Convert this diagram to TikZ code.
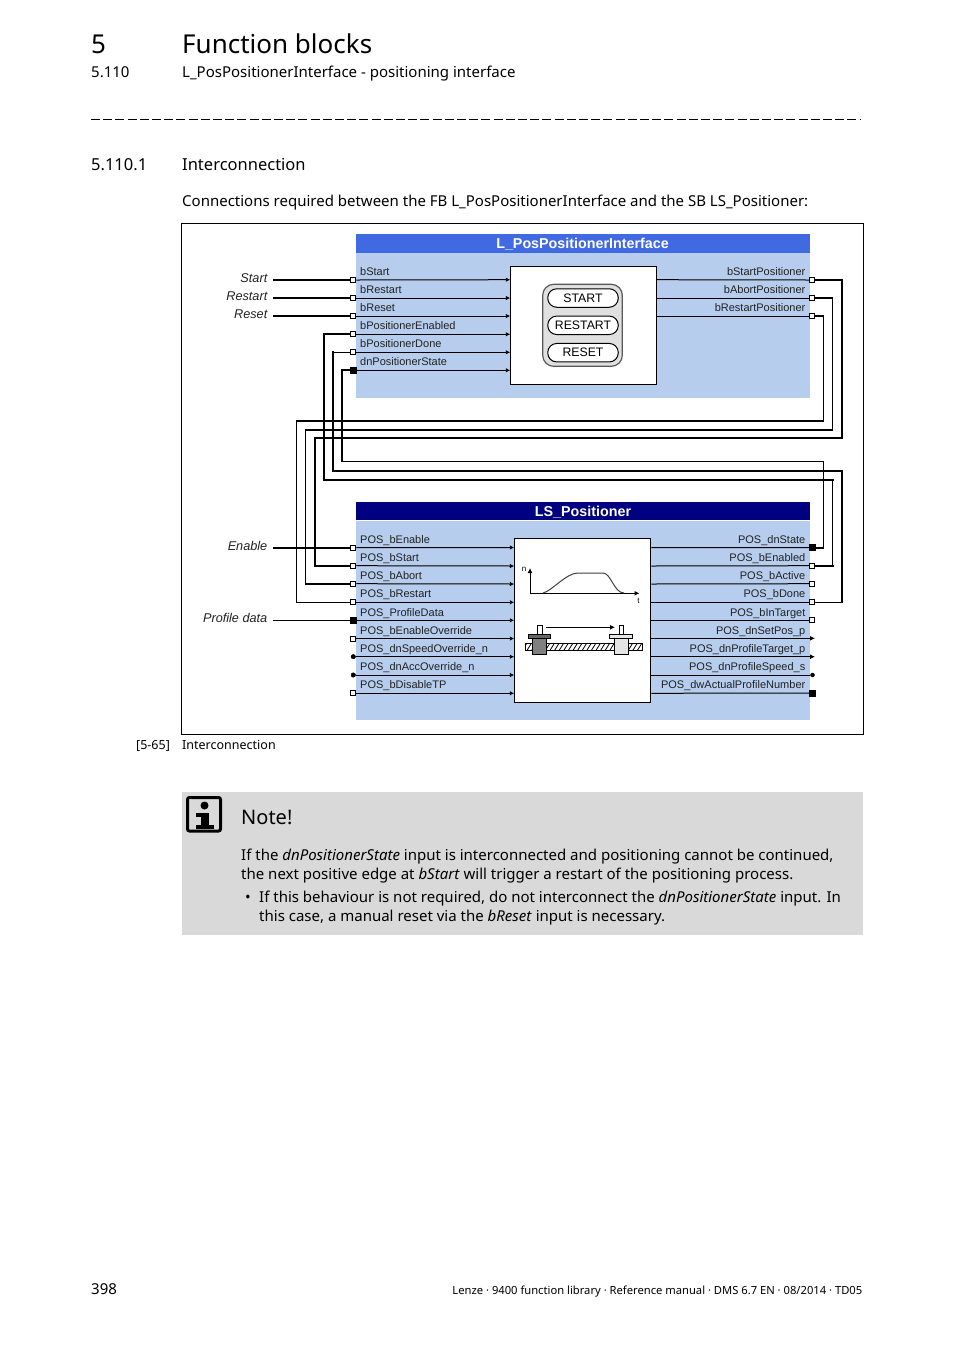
\documentclass[tikz,border=0pt]{standalone}
\usepackage{fontspec}
\setmainfont{Noto Sans}
\newfontfamily\arial{Liberation Sans}
\usetikzlibrary{arrows.meta}
\definecolor{panel}{HTML}{B6CDED}
\definecolor{ttlA}{HTML}{4169E1}
\definecolor{ttlB}{HTML}{000080}
\definecolor{notegray}{HTML}{D9D9D9}
\definecolor{txt}{HTML}{222222}
\tikzset{
 port/.style={draw=black,fill=white,line width=1,inner sep=0,minimum size=5,shape=rectangle},
 portfill/.style={draw=black,fill=black,line width=0.5,inner sep=0,minimum size=6,shape=rectangle},
 portdot/.style={draw=black,fill=black,inner sep=0,minimum size=4.5,shape=circle},
 sig/.style={line width=1},
 sigin/.style={line width=1,-{Latex[length=4.5,width=4.5]}},
 wthin/.style={line width=1.1,line cap=rect},
 wthick/.style={line width=2,line cap=rect},
 plbl/.style={font=\arial\fontsize{11}{13}\selectfont,text=txt,inner sep=0},
 lft/.style={plbl,anchor=base west},
 rgt/.style={plbl,anchor=base east},
 extl/.style={font=\arial\itshape\fontsize{12.7}{15}\selectfont,text=txt,inner sep=0,anchor=base east},
 btn/.style={draw=black,fill=white,line width=1,rounded corners=9,minimum width=70.5,minimum height=18.5,inner sep=0,font=\arial\fontsize{12.3}{14}\selectfont},
 body/.style={inner sep=0,anchor=base west,font=\fontsize{15}{18}\selectfont,text=black},
 ttl/.style={font=\arial\bfseries\fontsize{14.3}{16}\selectfont,text=white,inner sep=0,anchor=base},
 blockbox/.style={draw=black,fill=white,line width=1,inner sep=0,anchor=north west},
}
\begin{document}
\begin{tikzpicture}[x=1pt,y=-1pt]
\useasboundingbox (0,0) rectangle (954,1350);
\fill[white] (0,0) rectangle (954,1350);
% header
\node[body,font=\fontsize{26}{30}\selectfont] (chapnum) at (91,53) {5};
\node[body,font=\fontsize{26}{30}\selectfont] (chaptitle) at (182,53) {Function blocks};
\node[body] (secnum) at (91,77) {5.110};
\node[body] (sectitle) at (182,77) {L\_PosPositionerInterface - positioning interface};
\draw[line width=1,dash pattern=on 9 off 3.2] (91,119.5) -- (860,119.5);
\node[body,font=\bfseries\fontsize{16.5}{20}\selectfont] (subnum) at (91,170) {5.110.1};
\node[body,font=\bfseries\fontsize{16.5}{20}\selectfont] (subtitle) at (182,170) {Interconnection};
\node[body] (intro) at (182,206) {Connections required between the FB \textbf{L\_PosPositionerInterface} and the SB \textbf{LS\_Positioner}:};
% frame
\draw[line width=1] (181.5,223.5) rectangle (863.5,734.5);
% upper block
\fill[panel] (356,252.7) rectangle (810,397.7);
\fill[ttlA] (356,234) rectangle (810,252.7);
\node[ttl] (ttlup) at (582.5,248) {L\_PosPositionerInterface};
\node[blockbox,minimum width=145.4,minimum height=118] (boxup) at (510.3,266.3) {};
\draw[draw=black!65,fill=black!12,line width=1.2,rounded corners=11] (542.7,284.3) rectangle (622.3,366.3);
\node[btn] (bstart) at (583,298) {START};
\node[btn] (brestart) at (583,325.3) {RESTART};
\node[btn] (breset) at (583,352.7) {RESET};
% upper ports
\node[port] (pA) at (353.3,280) {};
\node[port] (pB) at (353.3,298) {};
\node[port] (pC) at (353.3,316) {};
\node[port] (pD) at (353.3,334.3) {};
\node[port] (pE) at (353.3,352.3) {};
\node[portfill] (pF) at (353.3,370.3) {};
\node[port] (qA) at (812,280) {};
\node[port] (qB) at (812,298) {};
\node[port] (qC) at (812,316) {};
\foreach \n/\y in {pA/279.7,pB/298,pC/316,pD/334.3,pE/352.3,pF/370.3}
  \draw[sigin] (\n.east) -- (boxup.west |- 0,\y);
\foreach \n/\y in {qA/279.7,qB/298,qC/316}
  \draw[sig] (boxup.east |- 0,\y) -- (\n.west);
\foreach \t/\y in {bStart/275,bRestart/293,bReset/311,bPositionerEnabled/329,bPositionerDone/347.7,dnPositionerState/365.7}
  \node[lft] (l\t) at (360,\y) {\t};
\foreach \t/\y in {bStartPositioner/275,bAbortPositioner/293,bRestartPositioner/311}
  \node[rgt] (l\t) at (805.5,\y) {\t};
% lower block
\fill[panel] (356,521) rectangle (810,720);
\fill[ttlB] (356,502) rectangle (810,519.7);
\node[ttl] (ttllo) at (583,516) {LS\_Positioner};
\node[blockbox,minimum width=136,minimum height=163.7] (boxlo) at (514.3,538.3) {};
% lower ports
\node[port] (rA) at (353.3,547.7) {};
\node[port] (rB) at (353.3,565.7) {};
\node[port] (rC) at (353.3,583.7) {};
\node[port] (rD) at (353.3,602.3) {};
\node[portfill] (rE) at (353.3,620.3) {};
\node[port] (rF) at (353.3,638.5) {};
\node[portdot] (rG) at (353.3,656.7) {};
\node[portdot] (rH) at (353.3,675) {};
\node[port] (rI) at (353.3,693.3) {};
\foreach \n/\y in {rA/547.5,rB/566,rC/584,rD/602.3,rE/620.3,rF/638.5,rG/656.7,rH/675,rI/693.3}
  \draw[sigin] (\n.east) -- (boxlo.west |- 0,\y);
\foreach \t/\y in {POS\_bEnable/543,POS\_bStart/561,POS\_bAbort/579,POS\_bRestart/597,POS\_ProfileData/616,POS\_bEnableOverride/634,POS\_dnSpeedOverride\_n/652,POS\_dnAccOverride\_n/670,POS\_bDisableTP/688}
  \node[lft] at (360,\y) {\t};
\foreach \t/\y in {POS\_dnState/543,POS\_bEnabled/561,POS\_bActive/579,POS\_bDone/597,POS\_bInTarget/616,POS\_dnSetPos\_p/634,POS\_dnProfileTarget\_p/652,POS\_dnProfileSpeed\_s/670,POS\_dwActualProfileNumber/688}
  \node[rgt] at (805.5,\y) {\t};
\node[portfill] (sA) at (812,547.7) {};
\node[port] (sB) at (812,565.7) {};
\node[port] (sC) at (812,583.7) {};
\node[port] (sD) at (812,602.3) {};
\node[port] (sE) at (812,620.3) {};
\coordinate (sF) at (810,638.3);
\coordinate (sG) at (810,656.7);
\node[portdot,minimum size=4] (sH) at (812.5,675) {};
\node[portfill] (sI) at (812,693) {};
\foreach \n/\y in {sA/547.5,sB/566,sC/584,sD/602.3,sE/620.3,sH/675,sI/693.3}
  \draw[sig] (boxlo.east |- 0,\y) -- (\n.west);
\foreach \n/\y in {sF/638.3,sG/656.7}
  \draw[sig,-{Latex[length=5,width=5]}] (boxlo.east |- 0,\y) -- (815,\y);
% process picture
\draw[line width=1,-{Latex[length=5,width=5]}] (530,593.3) -- (530,568);
\draw[line width=1,-{Latex[length=5,width=5]}] (530,593.3) -- (639.5,593.3);
\draw[line width=1,black!75] (543,593) .. controls (552,591) and (566,573) .. (578,573) -- (603,573) .. controls (611,573) and (614,593) .. (624,593);
\node[font=\arial\fontsize{8}{9}\selectfont,inner sep=0] (axn) at (524,569) {n};
\node[font=\arial\fontsize{8}{9}\selectfont,inner sep=0] (axt) at (638.5,601) {t};
\draw[line width=1] (525,643.3) rectangle (642.7,650.7);
\begin{scope}
\clip (525,643.3) rectangle (642.7,650.7);
\foreach \i in {0,...,26}
  \draw[line width=0.8] ({522+\i*4.6},651) -- ({527+\i*4.6},643);
\end{scope}
\draw[fill=white,line width=1] (537.3,625) rectangle (542,634.3);
\draw[fill=black!60,line width=1] (528.3,634.3) rectangle (550.7,638.3);
\draw[fill=black!50,line width=1] (532.3,638.3) rectangle (546.7,654.3);
\draw[fill=white,line width=1] (619.3,625) rectangle (623.7,634.3);
\draw[fill=black!10,line width=1] (609.3,634.3) rectangle (632.7,638.3);
\draw[fill=black!10,line width=1] (614.3,638.3) rectangle (628.7,654.3);
\draw[line width=1,-{Latex[length=5,width=5]}] (546,627.3) -- (615,627.3);
% external labels
\node[extl] at (267.5,282) {Start};
\node[extl] at (267.5,300) {Restart};
\node[extl] at (267.5,318) {Reset};
\node[extl] at (267.5,550) {Enable};
\node[extl] at (267.5,622) {Profile data};
\coordinate (xA) at (274,280);
\coordinate (xB) at (274,298);
\coordinate (xC) at (274,316);
\coordinate (xD) at (274,547.7);
\coordinate (xE) at (274,620.3);
\draw[wthick] (xA) -- (pA.west);
\draw[wthick] (xB) -- (pB.west);
\draw[wthick] (xC) -- (pC.west);
\draw[wthick] (xD) -- (rA.west);
\draw[wthin] (xE) -- (rE.west);
% connectors: thin full route, thick overlay
% bPositionerEnabled -> POS_bEnabled
\draw[wthin] (pD.west) -| (324,479.7) -| (832.7,565.7) -- (sB.east);
\draw[wthick] (pD.west) -| (324,479.7) -- (832.7,479.7);
\draw[wthick] (832.7,565.7) -- (sB.east);
% bPositionerDone <- POS_bDone
\draw[wthin] (pE.west) -| (333,471) -| (842,602.3) -- (sD.east);
\draw[line width=2,line cap=rect] (333,352.3) -- (333,471) -- (842,471) -- (842,602.3);
% dnPositionerState <- POS_dnState
\draw[wthin] (pF.west) -| (342,461.3) -| (823.3,547.7) -- (sA.east);
\draw[wthick] (pF.west) -| (342,461.3);
\draw[wthick] (823.3,547.7) -- (sA.east);
% bStartPositioner -> POS_bStart
\draw[wthick] (qA.east) -| (842,438.3) -| (315,565.7) -- (rB.west);
% bAbortPositioner -> POS_bAbort
\draw[wthin] (qB.east) -| (832.3,429.7) -| (305.7,583.7) -- (rC.west);
\draw[wthick] (qB.east) -- (832.3,298);
\draw[wthick] (832.3,429.7) -- (305.7,429.7);
\draw[wthick] (305.7,583.7) -- (rC.west);
% bRestartPositioner -> POS_bRestart
\draw[wthin] (qC.east) -| (823.3,420.7) -| (296.7,602.3) -- (rD.west);
\draw[wthick] (qC.east) -- (823.3,316);
\draw[wthick] (823.3,420.7) -- (296.7,420.7);
% caption
\node[body,font=\fontsize{12.5}{15}\selectfont] (figno) at (136,749) {[5-65]};
\node[body,font=\fontsize{12.5}{15}\selectfont] (figcap) at (182,749) {Interconnection};
% note
\fill[notegray] (182,792) rectangle (863,935);
\draw[line width=3,rounded corners=2] (187.5,797.5) rectangle (220.5,831);
\fill (204.5,805.5) circle (4);
\fill (196,813) rectangle (208.5,816.5);
\fill (201,813) rectangle (208.5,827);
\fill (196,825) rectangle (214,828.5);
\node[body,font=\bfseries\fontsize{20}{24}\selectfont] (notehd) at (241,824) {Note!};
\node[body] (n1) at (241,860) {If the \textit{dnPositionerState} input is interconnected and positioning cannot be continued,};
\node[body] (n2) at (241,879) {the next positive edge at \textit{bStart} will trigger a restart of the positioning process.};
\node[body] (n3a) at (245,902) {•};
\node[body] (n3) at (259,902) {If this behaviour is not required, do not interconnect the \textit{dnPositionerState} input. In};
\node[body] (n4) at (259,921) {this case, a manual reset via the \textit{bReset} input is necessary.};
% footer
\node[body] (pg) at (91,1294) {398};
\node[inner sep=0,anchor=base east,font=\fontsize{11.2}{13}\selectfont] (foot) at (862.5,1294) {Lenze · 9400 function library · Reference manual · DMS 6.7 EN · 08/2014 · TD05};
\end{tikzpicture}
\end{document}
